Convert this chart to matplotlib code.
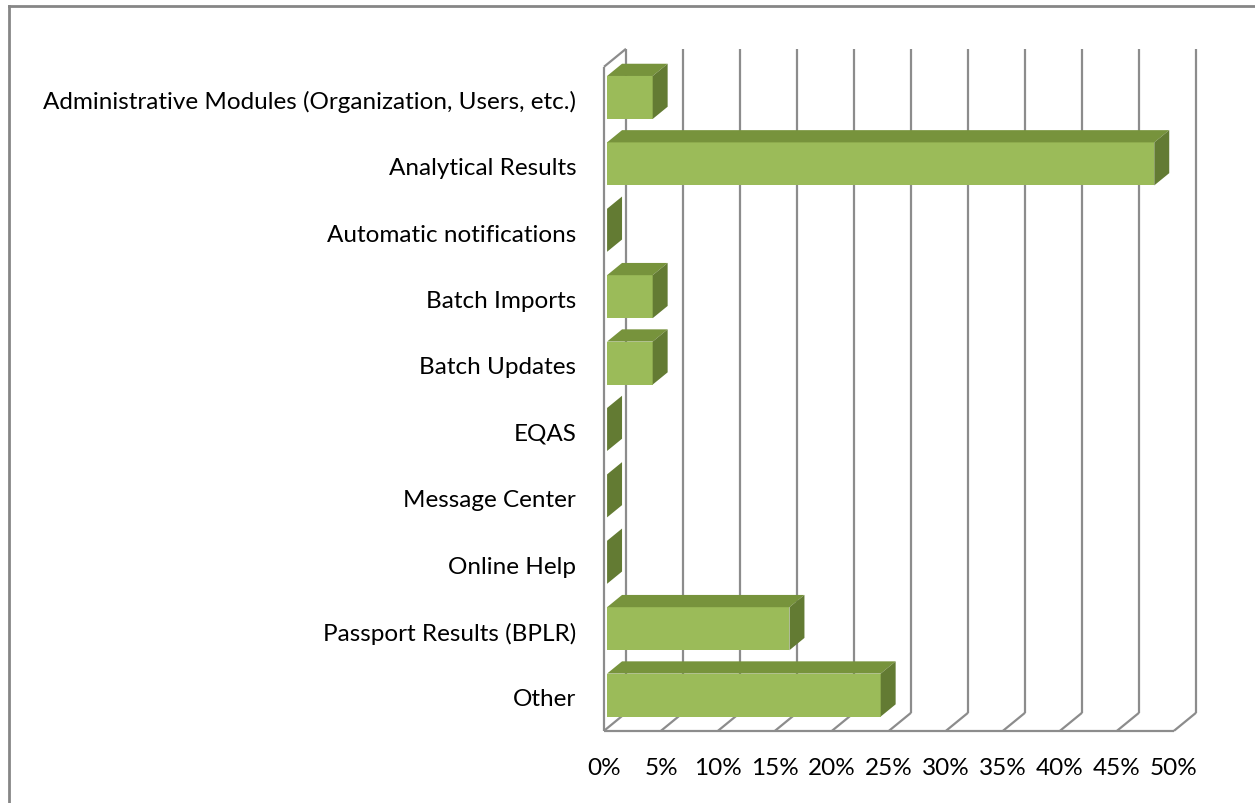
import matplotlib
matplotlib.use("Agg")
import matplotlib.pyplot as plt
from matplotlib.patches import Polygon, Rectangle
from matplotlib.lines import Line2D

categories = [
    "Administrative Modules (Organization, Users, etc.)",
    "Analytical Results",
    "Automatic notifications",
    "Batch Imports",
    "Batch Updates",
    "EQAS",
    "Message Center",
    "Online Help",
    "Passport Results (BPLR)",
    "Other",
]
values = [4, 48, 0, 4, 4, 0, 0, 0, 16, 24]
x_ticks = [0, 5, 10, 15, 20, 25, 30, 35, 40, 45, 50]
x_tick_labels = [f"{t}%" for t in x_ticks]

# colours / 3d look
FRONT = "#9BBB59"
TOP = "#77933C"
SIDE = "#637B33"
GRID = "#8C8C8C"

W, H = 1255, 804
fig = plt.figure(figsize=(W / 100, H / 100), dpi=100)
plt.rcParams["font.family"] = ["Lato", "DejaVu Sans"]

# axes box = front plane of the floor / left wall
left_px, right_px, top_px, bottom_px = 604, 1174, 67.8, 731.8
ax = fig.add_axes([left_px / W, 1 - bottom_px / H,
                   (right_px - left_px) / W, (bottom_px - top_px) / H])
ax.set_xlim(0, 50)
ax.set_ylim(len(categories) - 0.5, -0.5)
for s in ax.spines.values():
    s.set_visible(False)

# depth vector of the 3d box, in data units (x: %, y: category rows)
px_x = (right_px - left_px) / 50
px_y = (bottom_px - top_px) / len(categories)
DX = 22 / px_x
DY = 18 / px_y
z0, z1 = 0.14, 0.82      # bar depth range (fraction of box depth)
bar_h = 43 / px_y

y_lo = len(categories) - 0.5
y_hi = -0.5

def line(xs, ys):
    ax.add_line(Line2D(xs, ys, color=GRID, lw=1.6, clip_on=False,
                       solid_capstyle="butt", zorder=1))

# back wall gridlines + floor diagonals
for t in x_ticks:
    line([t + DX, t + DX], [y_lo - DY, y_hi - DY])
    line([t, t + DX], [y_lo, y_lo - DY])
# front floor edge and left wall
line([0, 50], [y_lo, y_lo])
line([0, 0], [y_lo, y_hi])
line([0, DX], [y_hi, y_hi - DY])

# bars
for i, v in enumerate(values):
    x0 = z0 * DX
    top = i - bar_h / 2 - z0 * DY
    bot = i + bar_h / 2 - z0 * DY
    ddx = (z1 - z0) * DX
    ddy = (z1 - z0) * DY
    if v > 0:
        ax.add_patch(Rectangle((x0, top), v, bar_h, facecolor=FRONT,
                               edgecolor="none", clip_on=False, zorder=3))
        ax.add_patch(Polygon([(x0, top), (x0 + v, top), (x0 + v + ddx, top - ddy),
                              (x0 + ddx, top - ddy)], closed=True,
                             facecolor=TOP, edgecolor="none", clip_on=False, zorder=3))
    ax.add_patch(Polygon([(x0 + v, top), (x0 + v, bot), (x0 + v + ddx, bot - ddy),
                          (x0 + v + ddx, top - ddy)], closed=True,
                         facecolor=SIDE, edgecolor="none", clip_on=False, zorder=3))

ax.set_yticks([i + 0.02 for i in range(len(categories))])
ax.set_yticklabels(categories, fontsize=17.5)
ax.set_xticks(x_ticks)
ax.set_xticklabels(x_tick_labels, fontsize=17.5)
ax.tick_params(axis="y", length=0, pad=20)
ax.tick_params(axis="x", length=0, pad=19)
for lbl in ax.get_yticklabels():
    lbl.set_va("center")

# chart frame (only top and left edges are visible in the reference)
fig.add_artist(Line2D([8.5 / W, 8.5 / W], [0, 1 - 6.5 / H], transform=fig.transFigure,
                      color="#868686", lw=2))
fig.add_artist(Line2D([8.5 / W, 1], [1 - 6.5 / H, 1 - 6.5 / H], transform=fig.transFigure,
                      color="#868686", lw=2))

fig.savefig("out.png", dpi=100)
